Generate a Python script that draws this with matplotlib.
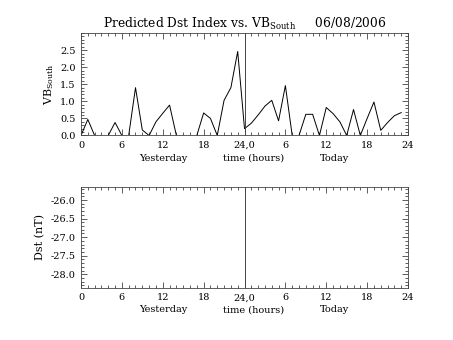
import matplotlib
matplotlib.use('Agg')
import matplotlib.pyplot as plt
from matplotlib.ticker import MultipleLocator, FixedLocator
import matplotlib.transforms as mtransforms

# hours since start of yesterday (0..47)
hours = list(range(48))
vb_south = [0.0, 0.47, 0.0, 0.0, 0.0, 0.38, 0.0, 0.0, 1.40, 0.16,
            0.0, 0.40, 0.65, 0.89, 0.0, 0.0, 0.0, 0.0, 0.66, 0.50,
            0.0, 1.03, 1.40, 2.46, 0.20, 0.36, 0.60, 0.86, 1.03, 0.43,
            1.46, 0.0, 0.0, 0.62, 0.62, 0.0, 0.82, 0.64, 0.40, 0.0,
            0.76, 0.0, 0.50, 0.98, 0.15, 0.38, 0.58, 0.67]

x_ticks = [0, 6, 12, 18, 24, 30, 36, 42, 48]
x_ticklabels = ['0', '6', '12', '18', '24,0', '6', '12', '18', '24']
day_labels = ['Yesterday', 'time (hours)', 'Today']
day_label_pos = [12, 25.3, 37.2]

plt.rcParams['font.family'] = 'DejaVu Serif'
plt.rcParams['mathtext.fontset'] = 'dejavuserif'

fig = plt.figure(figsize=(4.53, 3.4), dpi=100)
ax1 = fig.add_axes([0.1788, 0.6015, 0.7219, 0.3014])
ax2 = fig.add_axes([0.1788, 0.1538, 0.7219, 0.2971])


def style_axis(ax):
    ax.set_xlim(0, 48)
    ax.set_xticks(x_ticks)
    ax.set_xticklabels(x_ticklabels)
    ax.xaxis.set_minor_locator(MultipleLocator(1))
    ax.tick_params(which='both', direction='in', top=True, right=True,
                   width=0.6, color='#444444', labelsize=7, pad=4)
    ax.tick_params(which='major', length=4.5)
    ax.tick_params(which='minor', length=2)
    for s in ax.spines.values():
        s.set_linewidth(0.6)
        s.set_color('#444444')
    ax.axvline(24, color='#444444', lw=0.7)
    trans = mtransforms.blended_transform_factory(ax.transData, ax.transAxes)
    for lab, pos in zip(day_labels, day_label_pos):
        ax.text(pos, -0.245, lab, transform=trans, ha='center',
                va='baseline', fontsize=7)


# top panel: VB south
ax1.plot(hours, vb_south, color='black', lw=0.7)
style_axis(ax1)
ax1.set_ylim(0, 3.0)
ax1.yaxis.set_major_locator(FixedLocator([0, 0.5, 1.0, 1.5, 2.0, 2.5]))
ax1.yaxis.set_major_formatter(plt.FormatStrFormatter('%.1f'))
ax1.yaxis.set_minor_locator(MultipleLocator(0.1))
ax1.set_ylabel(r'VB$_{\rm South}$', fontsize=8, labelpad=3)
ax1.set_title(r'Predicted Dst Index vs. VB$_{\rm South}$     06/08/2006',
              fontsize=8.8, pad=4)

# bottom panel: Dst (no data)
style_axis(ax2)
ax2.set_ylim(-28.36, -25.64)
ax2.yaxis.set_major_locator(FixedLocator([-28.0, -27.5, -27.0, -26.5, -26.0]))
ax2.yaxis.set_major_formatter(plt.FormatStrFormatter('%.1f'))
ax2.yaxis.set_minor_locator(MultipleLocator(0.1))
ax2.set_ylabel('Dst (nT)', fontsize=8, labelpad=4)

plt.savefig('out.png', dpi=100)
